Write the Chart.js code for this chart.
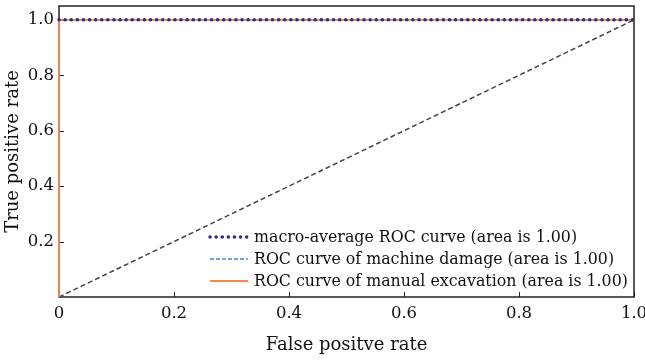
<!DOCTYPE html>
<html>
<head>
<meta charset="utf-8">
<script src="https://cdn.jsdelivr.net/npm/chart.js@4.4.1/dist/chart.umd.min.js"></script>
<style>
  html, body { margin: 0; padding: 0; background: #fff; }
  #wrap { width: 645px; height: 360px; }
</style>
</head>
<body>
<div id="wrap"><canvas id="roc" width="645" height="360"></canvas></div>
<script>
// ROC curve points (false positive rate / true positive rate)
const macroFpr = [0, 1];
const macroTpr = [1, 1];
const machineFpr = [0, 0, 1];
const machineTpr = [0, 1, 1];
const manualFpr = [0, 0, 1];
const manualTpr = [0, 1, 1];
const chanceFpr = [0, 1];
const chanceTpr = [0, 1];

const seriesLabels = [
    'macro-average ROC curve (area is 1.00)',
    'ROC curve of machine damage (area is 1.00)',
    'ROC curve of manual excavation (area is 1.00)'
];
const xTicks = [0, 0.2, 0.4, 0.6, 0.8, 1.0];
const yTicks = [0.2, 0.4, 0.6, 0.8, 1.0];

const FONT = '"DejaVu Serif", serif';

function toPoints(xs, ys) {
    return xs.map((x, i) => ({ x: x, y: ys[i] }));
}

// frame and inward ticks go under the curves, the legend on top
const decorations = {
    id: 'decorations',
    beforeDatasetsDraw(chart) {
        const ctx = chart.ctx;
        const a = chart.chartArea;
        const xs = chart.scales.x, ys = chart.scales.y;
        ctx.save();
        ctx.strokeStyle = '#222';
        ctx.lineWidth = 1.5;
        ctx.strokeRect(a.left, a.top, a.right - a.left, a.bottom - a.top);
        ctx.lineWidth = 1;
        xTicks.forEach(v => {
            const px = Math.round(xs.getPixelForValue(v)) + 0.5;
            ctx.beginPath();
            ctx.moveTo(px, a.bottom);
            ctx.lineTo(px, a.bottom - 5);
            ctx.stroke();
        });
        yTicks.forEach(v => {
            const py = Math.round(ys.getPixelForValue(v)) + 0.5;
            ctx.beginPath();
            ctx.moveTo(a.left, py);
            ctx.lineTo(a.left + 5, py);
            ctx.stroke();
        });
        ctx.restore();
    },
    afterDraw(chart) {
        const ctx = chart.ctx;
        ctx.save();
        ctx.font = '15.8px ' + FONT;
        ctx.textBaseline = 'middle';
        ctx.fillStyle = '#111';
        const rowY = [237, 259, 281];
        const x0 = 210, x1 = 248;
        chart.data.datasets.slice(0, 3).forEach((ds, i) => {
            ctx.strokeStyle = ds.borderColor;
            ctx.lineWidth = ds.borderWidth;
            ctx.setLineDash(ds.borderDash || []);
            ctx.lineCap = ds.borderCapStyle || 'butt';
            ctx.beginPath();
            ctx.moveTo(x0, rowY[i]);
            ctx.lineTo(x1, rowY[i]);
            ctx.stroke();
            ctx.setLineDash([]);
            ctx.fillText(ds.label, 254, rowY[i] + 1);
        });
        ctx.restore();
    }
};

new Chart(document.getElementById('roc'), {
    type: 'line',
    data: {
        datasets: [
            {
                label: seriesLabels[0],
                data: toPoints(macroFpr, macroTpr),
                borderColor: '#2e2c86',
                borderWidth: 3.5,
                borderDash: [0.1, 6],
                borderCapStyle: 'round',
                order: 0
            },
            {
                label: seriesLabels[1],
                data: toPoints(machineFpr, machineTpr),
                borderColor: '#3d8fd6',
                borderWidth: 1.5,
                borderDash: [4, 2],
                order: 2
            },
            {
                label: seriesLabels[2],
                data: toPoints(manualFpr, manualTpr),
                borderColor: '#f5874a',
                borderWidth: 1.8,
                order: 1
            },
            {
                label: 'chance',
                data: toPoints(chanceFpr, chanceTpr),
                borderColor: '#444',
                borderWidth: 1.5,
                borderDash: [5, 3],
                order: 3
            }
        ]
    },
    options: {
        responsive: false,
        animation: false,
        clip: false,
        elements: { point: { radius: 0 }, line: { tension: 0 } },
        layout: { padding: { top: 6, right: 11, left: 0, bottom: 0 } },
        plugins: { legend: { display: false }, tooltip: { enabled: false } },
        scales: {
            x: {
                type: 'linear',
                min: 0,
                max: 1,
                grid: { display: false, drawTicks: false },
                border: { display: false },
                afterBuildTicks: s => { s.ticks = xTicks.map(v => ({ value: v })); },
                afterFit: s => { s.height = 63; s.paddingLeft = 0; s.paddingRight = 0; },
                ticks: {
                    color: '#111',
                    font: { family: FONT, size: 16.5 },
                    padding: 7,
                    maxRotation: 0,
                    callback: v => (v === 0 ? '0' : v.toFixed(1))
                },
                title: {
                    display: true,
                    text: 'False positve rate',
                    color: '#111',
                    font: { family: FONT, size: 18 },
                    padding: { top: 4 }
                }
            },
            y: {
                type: 'linear',
                min: 0,
                max: 1.05,
                grid: { display: false, drawTicks: false },
                border: { display: false },
                afterBuildTicks: s => { s.ticks = yTicks.map(v => ({ value: v })); },
                afterFit: s => { s.width = 59; s.paddingTop = 0; s.paddingBottom = 0; },
                ticks: {
                    color: '#111',
                    font: { family: FONT, size: 16.5 },
                    padding: 5,
                    callback: v => v.toFixed(1)
                },
                title: {
                    display: true,
                    text: 'True positive rate',
                    color: '#111',
                    font: { family: FONT, size: 18 },
                    padding: { bottom: 0, top: 3 }
                }
            }
        }
    },
    plugins: [decorations]
});
</script>
</body>
</html>
